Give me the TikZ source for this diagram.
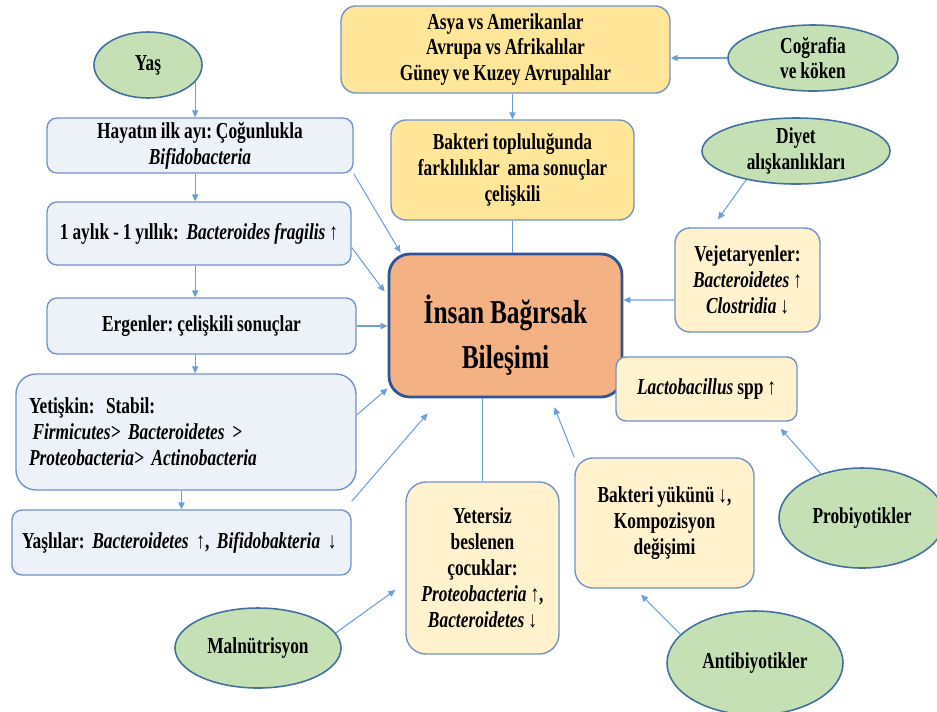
\documentclass[tikz,border=0pt]{standalone}
\usepackage{fontspec}
\setmainfont{Liberation Serif}[FakeStretch=0.76, WordSpace=0.9]
\usetikzlibrary{arrows.meta,shapes.geometric}

\definecolor{paleblue}{RGB}{237,242,249}
\definecolor{boxblue}{RGB}{114,148,200}
\definecolor{gold}{RGB}{255,230,153}
\definecolor{cream}{RGB}{255,242,204}
\definecolor{peach}{RGB}{244,177,131}
\definecolor{hubline}{RGB}{47,85,151}
\definecolor{sage}{RGB}{197,224,180}
\definecolor{ovalline}{RGB}{65,113,156}
\definecolor{linkblue}{RGB}{110,160,215}

\begin{document}
\frenchspacing
\begin{tikzpicture}[
  every node/.style={font=\bfseries\fontsize{13}{14.7}\selectfont\frenchspacing, align=center, inner sep=0pt},
  bluebox/.style={draw=boxblue, fill=paleblue, line width=0.8pt, rounded corners=0.2cm},
  goldbox/.style={draw=boxblue, fill=gold, line width=0.8pt, rounded corners=0.3cm},
  creambox/.style={draw=boxblue, fill=cream, line width=0.8pt, rounded corners=0.3cm},
  hub/.style={draw=hubline, fill=peach, line width=1.6pt, rounded corners=0.42cm},
  hubtext/.style={font=\bfseries\fontsize{19}{25.5}\selectfont},
  factor/.style={ellipse, draw=ovalline, fill=sage, line width=0.9pt},
  arr/.style={draw=linkblue, line width=0.6pt, -{Triangle[length=4pt,width=3.6pt]}},
  link/.style={draw=linkblue, line width=0.6pt},
]
\useasboundingbox (0,0) rectangle (18.74,-14.22);

% age column
\node[factor, minimum width=2.16cm, minimum height=1.32cm] (yas) at (2.96,-1.30) {Yaş};
\node[bluebox, minimum width=6.12cm, minimum height=1.10cm] (hayat) at (4.00,-2.91)
  {Hayatın ilk ayı: Çoğunlukla\\\textit{Bifidobacteria}};
\node[bluebox, minimum width=6.08cm, minimum height=1.26cm] (aylik) at (3.98,-4.67)
  {1 aylık - 1 yıllık:\, \textit{Bacteroides fragilis} ↑};
\node[bluebox, minimum width=6.18cm, minimum height=1.12cm] (ergen) at (4.03,-6.52)
  {Ergenler: çelişkili sonuçlar};
\node[bluebox, rounded corners=0.4cm, minimum width=6.80cm, minimum height=2.32cm,
  text width=6.28cm, align=left] (yetiskin) at (3.72,-8.64)
  {Yetişkin:\, Stabil:\\\hspace*{2pt}\textit{Firmicutes> Bacteroidetes >}\\\textit{Proteobacteria> Actinobacteria}};
\node[bluebox, minimum width=6.78cm, minimum height=1.30cm,
  text width=6.38cm, align=left] (yasli) at (3.63,-10.85)
  {Yaşlılar: \textit{Bacteroidetes} ↑, \textit{Bifidobakteria} ↓};

% central composition
\node[hub, minimum width=4.66cm, minimum height=2.86cm] (hub) at (10.11,-6.51) {};
\node[hubtext] (hubtitle) at ([yshift=-0.2cm]hub.center) {İnsan Bağırsak\\Bileşimi};

% geography
\node[goldbox, minimum width=6.58cm, minimum height=1.74cm] (asya) at (10.11,-0.99)
  {Asya vs Amerikanlar\\Avrupa vs Afrikalılar\\Güney ve Kuzey Avrupalılar};
\node[goldbox, minimum width=4.86cm, minimum height=2.00cm] (bakteri) at (10.25,-3.40)
  {Bakteri topluluğunda\\farklılıklar\, ama sonuçlar\\çelişkili};
\node[factor, minimum width=3.40cm, minimum height=1.32cm] (cografia) at (16.26,-1.16)
  {Coğrafia\\ve köken};

% diet
\node[factor, minimum width=3.76cm, minimum height=1.32cm] (diyet) at (15.92,-3.02)
  {Diyet\\alışkanlıkları};
\node[creambox, minimum width=2.90cm, minimum height=2.08cm] (vejet) at (14.95,-5.60)
  {Vejetaryenler:\\\textit{Bacteroidetes} ↑\\\textit{Clostridia} ↓};

% probiotics
\node[creambox, rounded corners=0.2cm, minimum width=3.62cm, minimum height=1.28cm] (lacto) at (14.13,-7.78)
  {\textit{Lactobacillus} spp ↑};
\node[factor, minimum width=3.32cm, minimum height=2.00cm] (probiyotik) at (17.24,-10.36)
  {Probiyotikler};

% antibiotics
\node[creambox, rounded corners=0.36cm, minimum width=3.58cm, minimum height=2.60cm] (bakyuk) at (13.29,-10.46)
  {Bakteri yükünü ↓,\\Kompozisyon\\değişimi};
\node[factor, minimum width=3.52cm, minimum height=2.08cm] (antibiyotik) at (15.10,-13.26)
  {Antibiyotikler};

% malnutrition
\node[creambox, rounded corners=0.4cm, minimum width=3.06cm, minimum height=3.44cm] (yetersiz) at (9.65,-11.36)
  {Yetersiz\\beslenen\\çocuklar:\\\textit{Proteobacteria} ↑,\\\textit{Bacteroidetes} ↓};
\node[factor, minimum width=3.32cm, minimum height=1.60cm] (malnut) at (5.16,-12.96)
  {Malnütrisyon};

% age sequence
\draw[arr] (yas.-20) -- (yas.-20 |- hayat.north);
\draw[arr] (hayat.south -| yas.-20) -- (aylik.north -| yas.-20);
\draw[arr] (aylik.south -| yas.-20) -- (ergen.north -| yas.-20);
\draw[arr] (ergen.south -| yas.-20) -- (yetiskin.north -| yas.-20);
\draw[arr] (yetiskin.south -| yasli.north) -- (yasli.north);

% age stages into the hub
\draw[arr] (hayat.south east) -- ([xshift=0.26cm]hub.north west);
\draw[arr] ([yshift=-0.28cm]aylik.east) -- ([xshift=-0.06cm,yshift=-0.78cm]hub.north west);
\draw[arr] (ergen.east) -- (ergen.east -| hub.west);
\draw[arr] ([yshift=0.34cm]yetiskin.east) -- ([yshift=0.2cm]hub.south west);
\draw[arr] ([yshift=0.16cm]yasli.north east) -- ([xshift=0.8cm,yshift=-0.3cm]hub.south west);

% geography
\draw[arr] (cografia.west) -- (cografia.west -| asya.east);
\draw[arr] (asya.south -| bakteri.north) -- (bakteri.north);
\draw[link] (bakteri.south) -- (bakteri.south |- hub.north);

% diet
\draw[arr] (diyet.-150) -- ([xshift=-0.59cm,yshift=0.16cm]vejet.north);
\draw[arr] ([yshift=-0.4cm]vejet.west) -- ([yshift=0.51cm]hub.east);

% probiotics and antibiotics
\draw[arr] (probiyotik.133) -- ([xshift=-0.34cm,yshift=-0.14cm]lacto.south east);
\draw[arr] (bakyuk.north west) -- ([xshift=-1.38cm,yshift=-0.18cm]hub.south east);
\draw[arr] (antibiyotik.159) -- ([xshift=-0.47cm,yshift=-0.12cm]bakyuk.south);

% malnutrition
\draw[link] (yetersiz.north) -- (yetersiz.north |- hub.south);
\draw[arr] (malnut.11) -- ([xshift=-0.2cm,yshift=-0.44cm]yetersiz.west);
\end{tikzpicture}
\end{document}
